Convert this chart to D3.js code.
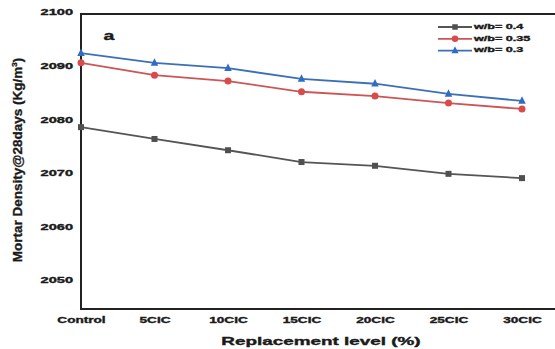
<!DOCTYPE html>
<html>
<head>
<meta charset="utf-8">
<script src="https://cdn.jsdelivr.net/npm/d3@7"></script>
<style>
  html, body { margin: 0; padding: 0; background: #fff; }
  svg { display: block; }
  text { font-family: "Liberation Sans", Arial, sans-serif; font-weight: bold; fill: #1a1a1a;
         stroke: #1a1a1a; stroke-width: 0.35; }
</style>
</head>
<body>
<svg id="chart" width="555" height="349"></svg>
<script>
// Replacement levels on the x axis
const categories = ["Control", "5CIC", "10CIC", "15CIC", "20CIC", "25CIC", "30CIC"];

// 28-day mortar density (kg/m3) per water/binder ratio
const wb04  = [2078.9, 2076.7, 2074.6, 2072.4, 2071.7, 2070.2, 2069.4];
const wb035 = [2090.9, 2088.6, 2087.5, 2085.5, 2084.7, 2083.4, 2082.3];
const wb03  = [2092.7, 2090.9, 2089.9, 2087.9, 2087.0, 2085.1, 2083.8];

const seriesNames = ["w/b= 0.4", "w/b= 0.35", "w/b= 0.3"];
const yTicks = [2050, 2060, 2070, 2080, 2090, 2100];

const series = [
  { name: seriesNames[0], values: wb04,  color: "#505050", line: "#555555", shape: "square" },
  { name: seriesNames[1], values: wb035, color: "#d94a4a", line: "#cc5555", shape: "circle" },
  { name: seriesNames[2], values: wb03,  color: "#2f6cc6", line: "#3d6fb8", shape: "triangle" }
];

const svg = d3.select("#chart");
const plotLeft = 81, plotRight = 560, plotTop = 14, plotBottom = 309;

const x = d3.scalePoint().domain(categories).range([plotLeft, 522]);
const y = d3.scaleLinear().domain([2045, 2100]).range([plotBottom, plotTop]);

// Frame: left, top and bottom edges (the right edge runs past the canvas)
svg.append("path")
  .attr("d", `M${plotRight},${plotTop}H${plotLeft}V${plotBottom}H${plotRight}`)
  .attr("fill", "none").attr("stroke", "#222").attr("stroke-width", 2);

// Y axis labels, horizontally widened bold digits
const yAxis = svg.append("g")
  .attr("transform", `translate(${plotLeft},0)`)
  .call(d3.axisLeft(y).tickValues(yTicks).tickSize(0).tickFormat(d3.format("d")));
yAxis.select(".domain").remove();
yAxis.selectAll("text")
  .attr("x", 0).attr("dy", 0).attr("fill", "#1a1a1a")
  .attr("font-size", 8.5)
  .attr("text-anchor", "end")
  .attr("transform", "translate(-8,-1.5) scale(1.72,1)")
  .attr("dominant-baseline", "middle");

// X axis labels
const xAxis = svg.append("g")
  .attr("transform", `translate(0,${plotBottom})`)
  .call(d3.axisBottom(x).tickSize(0));
xAxis.select(".domain").remove();
xAxis.selectAll("text")
  .attr("y", 0).attr("dy", 0).attr("fill", "#1a1a1a")
  .attr("font-size", 8.5)
  .attr("text-anchor", "middle")
  .attr("transform", "translate(0,13.5) scale(1.6,1)");

// Axis titles
svg.append("text")
  .attr("text-anchor", "middle")
  .attr("font-size", 10.5)
  .attr("transform", "translate(321,345) scale(1.8,1)")
  .text("Replacement level (%)");

const yTitle = svg.append("text")
  .attr("text-anchor", "middle")
  .attr("font-size", 13.5)
  .attr("transform", "translate(22,160) rotate(-90)");
yTitle.append("tspan").text("Mortar Density@28days (Kg/m");
yTitle.append("tspan").attr("font-size", 8).attr("dy", -5).text("3");
yTitle.append("tspan").attr("dy", 5).text(")");

// Panel letter
svg.append("text")
  .attr("text-anchor", "middle")
  .attr("font-size", 13)
  .attr("transform", "translate(109,40) scale(1.5,1)")
  .text("a");

function drawMarker(g, shape, cx, cy, color, size) {
  if (shape === "square") {
    g.append("rect").attr("x", cx - size / 2).attr("y", cy - size / 2)
      .attr("width", size).attr("height", size).attr("fill", color);
  } else if (shape === "circle") {
    g.append("circle").attr("cx", cx).attr("cy", cy).attr("r", size / 2 + 0.5).attr("fill", color);
  } else {
    const s = size + 1.5;
    g.append("path")
      .attr("d", `M${cx},${cy - s * 0.62}L${cx + s / 2},${cy + s * 0.38}L${cx - s / 2},${cy + s * 0.38}Z`)
      .attr("fill", color);
  }
}

const line = d3.line().x((d, i) => x(categories[i])).y(d => y(d));

series.forEach(s => {
  const g = svg.append("g");
  g.append("path").datum(s.values)
    .attr("d", line)
    .attr("fill", "none").attr("stroke", s.line).attr("stroke-width", 1.8);
  s.values.forEach((v, i) => drawMarker(g, s.shape, x(categories[i]), y(v), s.color, 6));
});

// Legend
const legend = svg.append("g");
series.forEach((s, i) => {
  const ly = 27 + i * 11.8;
  legend.append("line").attr("x1", 438).attr("x2", 472).attr("y1", ly).attr("y2", ly)
    .attr("stroke", s.line).attr("stroke-width", 1.8);
  drawMarker(legend, s.shape, 455, ly, s.color, 5.5);
  legend.append("text")
    .attr("font-size", 7)
    .attr("dominant-baseline", "middle")
    .attr("transform", `translate(474,${ly}) scale(1.8,1)`)
    .text(s.name);
});
</script>
</body>
</html>
